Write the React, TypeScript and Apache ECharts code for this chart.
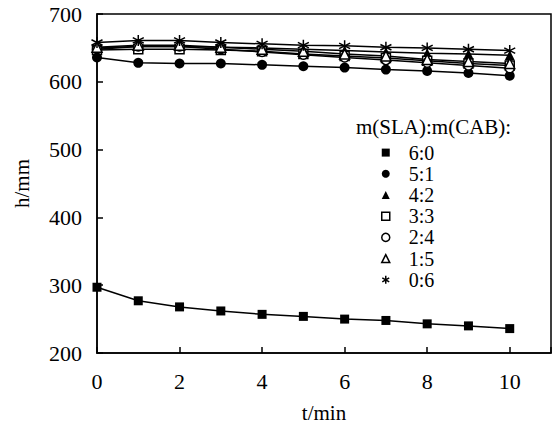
import React, { useEffect, useRef } from "react";
import * as echarts from "echarts";

const FONT = "Liberation Serif";

const times = [0, 1, 2, 3, 4, 5, 6, 7, 8, 9, 10];
const ratios = ["6:0", "5:1", "4:2", "3:3", "2:4", "1:5", "0:6"];
const s60 = [297, 277, 268, 262, 257, 254, 250, 248, 243, 240, 236];
const s51 = [636, 628, 627, 627, 625, 623, 621, 618, 616, 613, 609];
const s42 = [650, 652, 652, 651, 650, 648, 646, 644, 642, 641, 639];
const s33 = [647, 648, 648, 647, 645, 641, 638, 635, 631, 627, 624];
const s24 = [648, 652, 652, 648, 644, 640, 636, 632, 628, 624, 620];
const s15 = [651, 654, 654, 651, 648, 645, 641, 638, 633, 630, 627];
const s06 = [658, 661, 661, 658, 656, 654, 653, 651, 650, 648, 646];
const yTicks = [200, 300, 400, 500, 600, 700];
const xTicks = [0, 2, 4, 6, 8, 10];

const ASTER = "path://M5,0L5,10M0.67,2.5L9.33,7.5M9.33,2.5L0.67,7.5";

const filled = { color: "#000", borderColor: "#000", borderWidth: 0 };
const hollow = { color: "#fff", borderColor: "#000", borderWidth: 1.5 };
const aster = { color: "#000", borderColor: "#000", borderWidth: 1.5 };

const seriesDefs = [
  { name: ratios[0], data: s60, symbol: "rect", size: 9, style: filled, icon: "rect" },
  { name: ratios[1], data: s51, symbol: "circle", size: 10, style: filled, icon: "circle" },
  { name: ratios[2], data: s42, symbol: "triangle", size: 10, style: filled, icon: "triangle" },
  { name: ratios[3], data: s33, symbol: "rect", size: 9, style: hollow, icon: "rect" },
  { name: ratios[4], data: s24, symbol: "circle", size: 9, style: hollow, icon: "circle" },
  { name: ratios[5], data: s15, symbol: "triangle", size: 10, style: hollow, icon: "triangle" },
  { name: ratios[6], data: s06, symbol: ASTER, size: 11, style: aster, icon: ASTER },
];

export default function App() {
  const ref = useRef<HTMLDivElement>(null);
  useEffect(() => {
    if (!ref.current) return;
    const chart = echarts.init(ref.current, null, { renderer: "svg" });
    chart.setOption({
      animation: false,
      title: {
        text: "m(SLA):m(CAB):",
        left: 356,
        top: 116,
        padding: 0,
        textStyle: { fontFamily: FONT, fontSize: 21, fontWeight: "normal", color: "#000" },
      },
      legend: {
        orient: "vertical",
        left: 381,
        top: 142,
        padding: 0,
        itemGap: 0,
        itemWidth: 8,
        itemHeight: 8,
        textStyle: { fontFamily: FONT, fontSize: 20, color: "#000", lineHeight: 21.2, padding: [0, 0, 0, 14] },
        data: seriesDefs.map((d) => ({ name: d.name, icon: d.icon, itemStyle: d.style })),
      },
      grid: {
        left: 97,
        right: 3,
        top: 14,
        bottom: 75,
        show: true,
        borderColor: "#000",
        borderWidth: 1.5,
      },
      xAxis: {
        type: "value",
        min: 0,
        max: 11,
        interval: 2,
        name: "t/min",
        nameLocation: "middle",
        nameGap: 49,
        nameTextStyle: { fontFamily: FONT, fontSize: 21, color: "#000" },
        axisLine: { lineStyle: { color: "#000", width: 1.5 } },
        axisTick: { inside: true, length: 6, lineStyle: { color: "#000", width: 1.5 } },
        axisLabel: {
          fontFamily: FONT,
          fontSize: 22,
          color: "#000",
          margin: 17,
          formatter: (v: number) => (xTicks.includes(v) ? String(v) : ""),
        },
        splitLine: { show: false },
      },
      yAxis: {
        type: "value",
        min: yTicks[0],
        max: yTicks[yTicks.length - 1],
        interval: 100,
        name: "h/mm",
        nameLocation: "middle",
        nameGap: 65,
        nameTextStyle: { fontFamily: FONT, fontSize: 21, color: "#000" },
        axisLine: { lineStyle: { color: "#000", width: 1.5 } },
        axisTick: { inside: true, length: 6, lineStyle: { color: "#000", width: 1.5 } },
        axisLabel: { fontFamily: FONT, fontSize: 22, color: "#000", margin: 15 },
        splitLine: { show: false },
      },
      series: seriesDefs.map((d) => ({
        name: d.name,
        type: "line",
        data: d.data.map((v, i) => [times[i], v]),
        symbol: d.symbol,
        symbolSize: d.size,
        showAllSymbol: true,
        itemStyle: d.style,
        lineStyle: { color: "#000", width: 1.5 },
        emphasis: { disabled: true },
      })),
    });
    return () => chart.dispose();
  }, []);
  return (
    <div ref={ref} style={{ position: "fixed", left: 0, top: 0, width: 554, height: 428, background: "#fff" }} />
  );
}
